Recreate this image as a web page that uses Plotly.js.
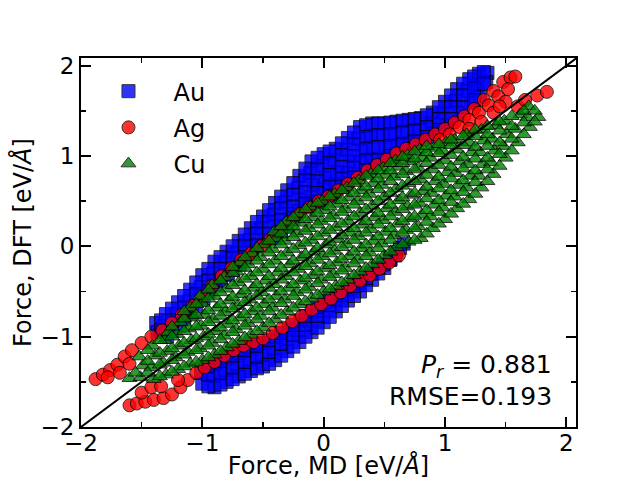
<!DOCTYPE html>
<html><head><meta charset="utf-8">
<script src="https://cdn.plot.ly/plotly-3.0.1.min.js"></script>
<style>html,body{margin:0;padding:0;background:#fff}#chart{width:640px;height:480px}</style>
</head><body><div id="chart"></div>
<script>
const seriesNames = ['Au', 'Ag', 'Cu'];

// Au (blue squares): [MD force, DFT force]
const auPoints = [
[-1.38,-0.85],[-1.37,-0.95],
[-1.30,-0.75],[-1.31,-0.88],[-1.29,-1.00],
[-1.20,-0.62],[-1.21,-0.75],[-1.19,-0.88],
[-1.10,-0.48],[-1.11,-0.61],[-1.09,-0.74],
[-1.00,-0.32],[-1.01,-0.45],[-0.99,-0.58],
[-0.90,-0.17],[-0.91,-0.30],[-0.89,-0.43],
[-0.80,-0.06],[-0.81,-0.19],[-0.79,-0.32],
[-0.70,0.06],[-0.71,-0.07],[-0.69,-0.20],
[-0.60,0.20],[-0.61,0.07],[-0.59,-0.06],
[-0.50,0.33],[-0.51,0.20],[-0.49,0.07],
[-0.40,0.48],[-0.41,0.35],[-0.39,0.22],[-0.40,0.09],
[-0.30,0.62],[-0.31,0.49],[-0.29,0.36],[-0.30,0.23],
[-0.20,0.78],[-0.21,0.65],[-0.19,0.52],[-0.20,0.39],
[-0.10,0.94],[-0.11,0.81],[-0.09,0.68],[-0.10,0.55],[-0.11,0.45],
[0.00,1.02],[-0.01,0.89],[0.01,0.76],[0.00,0.63],[-0.01,0.52],
[0.10,1.08],[0.09,0.95],[0.11,0.82],[0.10,0.69],[0.09,0.60],
[0.20,1.20],[0.19,1.07],[0.21,0.94],[0.20,0.81],[0.19,0.70],
[0.30,1.32],[0.29,1.19],[0.31,1.06],[0.30,0.93],[0.29,0.80],
[0.40,1.36],[0.39,1.23],[0.41,1.10],[0.40,0.97],[0.39,0.87],
[0.50,1.36],[0.49,1.23],[0.51,1.10],[0.50,0.97],
[0.60,1.38],[0.59,1.25],[0.61,1.12],[0.60,1.02],
[0.70,1.40],[0.69,1.27],[0.71,1.14],
[0.80,1.42],[0.79,1.29],[0.81,1.18],
[0.90,1.48],[0.89,1.36],[0.91,1.25],
[1.00,1.60],[0.99,1.47],[1.01,1.34],
[1.10,1.74],[1.09,1.61],[1.11,1.48],
[1.20,1.85],[1.19,1.72],[1.21,1.59],
[1.28,1.91],[1.27,1.78],[1.29,1.66],
[1.35,1.92],[1.34,1.82],
[-1.34,-0.82],[-1.34,-0.93],
[-1.25,-0.69],[-1.25,-0.82],[-1.25,-0.94],
[-1.15,-0.55],[-1.15,-0.68],[-1.15,-0.81],
[-1.05,-0.40],[-1.05,-0.53],[-1.05,-0.66],
[-0.95,-0.25],[-0.95,-0.38],[-0.95,-0.50],
[-0.85,-0.12],[-0.85,-0.25],[-0.85,-0.38],
[-0.75,0.00],[-0.75,-0.13],[-0.75,-0.26],
[-0.65,0.13],[-0.65,0.00],[-0.65,-0.12],
[-0.55,0.27],[-0.55,0.14],[-0.55,0.01],
[-0.45,0.40],[-0.45,0.27],[-0.45,0.14],
[-0.35,0.55],[-0.35,0.42],[-0.35,0.29],[-0.35,0.16],
[-0.25,0.70],[-0.25,0.57],[-0.25,0.44],[-0.25,0.31],
[-0.15,0.86],[-0.15,0.73],[-0.15,0.60],[-0.15,0.47],
[-0.05,0.98],[-0.05,0.85],[-0.05,0.72],[-0.05,0.59],[-0.05,0.49],
[0.05,1.05],[0.05,0.92],[0.05,0.79],[0.05,0.66],[0.05,0.56],
[0.15,1.14],[0.15,1.01],[0.15,0.88],[0.15,0.75],[0.15,0.66],
[0.25,1.26],[0.25,1.13],[0.25,1.00],[0.25,0.87],[0.25,0.76],
[0.35,1.34],[0.35,1.21],[0.35,1.08],[0.35,0.95],[0.35,0.84],
[0.45,1.36],[0.45,1.23],[0.45,1.10],[0.45,0.95],
[0.55,1.37],[0.55,1.24],[0.55,1.11],[0.55,1.00],
[0.65,1.39],[0.65,1.26],[0.65,1.13],
[0.75,1.41],[0.75,1.28],[0.75,1.16],
[0.85,1.45],[0.85,1.32],[0.85,1.21],
[0.95,1.54],[0.95,1.41],[0.95,1.29],
[1.05,1.67],[1.05,1.54],[1.05,1.41],
[1.15,1.80],[1.15,1.67],[1.15,1.54],
[1.24,1.88],[1.24,1.75],[1.24,1.62],
[1.32,1.93],[1.32,1.80],
[-1.00,-1.52],[-1.01,-1.40],
[-0.90,-1.56],[-0.91,-1.43],[-0.89,-1.30],
[-0.80,-1.50],[-0.81,-1.37],[-0.79,-1.24],
[-0.70,-1.44],[-0.71,-1.31],[-0.69,-1.18],
[-0.60,-1.38],[-0.61,-1.25],[-0.59,-1.12],
[-0.50,-1.33],[-0.51,-1.20],[-0.49,-1.07],
[-0.40,-1.26],[-0.41,-1.13],[-0.39,-1.00],
[-0.30,-1.16],[-0.31,-1.03],[-0.29,-0.92],
[-0.20,-1.06],[-0.21,-0.93],[-0.19,-0.82],
[-0.10,-0.95],[-0.11,-0.82],[-0.09,-0.72],
[0.00,-0.84],[-0.01,-0.71],[0.01,-0.62],
[0.10,-0.72],[0.09,-0.60],[0.11,-0.54],
[0.20,-0.60],[0.19,-0.48],
[0.30,-0.50],[0.29,-0.40],
[0.40,-0.37],[0.39,-0.30],
[0.50,-0.24],[0.49,-0.20],
[0.60,-0.06],[0.59,-0.10],
[0.66,0.03],
[-0.95,-1.55],[-0.95,-1.42],[-0.95,-1.33],
[-0.85,-1.53],[-0.85,-1.40],[-0.85,-1.27],
[-0.75,-1.47],[-0.75,-1.34],[-0.75,-1.21],
[-0.65,-1.41],[-0.65,-1.28],[-0.65,-1.15],
[-0.55,-1.35],[-0.55,-1.22],[-0.55,-1.10],
[-0.45,-1.30],[-0.45,-1.17],[-0.45,-1.04],
[-0.35,-1.21],[-0.35,-1.08],[-0.35,-0.96],
[-0.25,-1.11],[-0.25,-0.98],[-0.25,-0.87],
[-0.15,-1.00],[-0.15,-0.87],[-0.15,-0.77],
[-0.05,-0.90],[-0.05,-0.77],[-0.05,-0.67],
[0.05,-0.78],[0.05,-0.65],[0.05,-0.58],
[0.15,-0.66],[0.15,-0.54],
[0.25,-0.55],[0.25,-0.44],
[0.35,-0.43],[0.35,-0.35],
[0.45,-0.30],[0.45,-0.24],
[0.55,-0.15],[0.55,-0.14],
[0.63,-0.02]
];

// Ag (red circles)
const agPoints = [
[-1.88,-1.47],[-1.82,-1.42],[-1.76,-1.37],[-1.70,-1.31],[-1.64,-1.22],[-1.58,-1.15],
[-1.50,-1.07],[-1.42,-1.00],[-1.33,-0.93],[-1.25,-0.85],[-1.17,-0.76],[-1.08,-0.66],
[-1.00,-0.56],[-0.92,-0.44],[-0.84,-0.33],[-0.76,-0.24],[-0.68,-0.15],[-0.60,-0.08],
[-0.52,0.00],[-0.44,0.08],[-0.36,0.17],[-0.28,0.27],[-0.20,0.36],[-0.12,0.43],
[-0.04,0.50],[0.04,0.55],[0.12,0.62],[0.20,0.69],[0.28,0.76],[0.36,0.84],
[0.44,0.90],[0.52,0.96],[0.60,1.03],[0.68,1.08],[0.76,1.13],[0.84,1.18],
[0.92,1.24],[1.00,1.30],[1.08,1.37],[1.16,1.44],[1.24,1.52],[1.32,1.62],
[1.40,1.72],[1.48,1.82],[1.54,1.87],[1.58,1.88],
[-1.78,-1.45],[-1.68,-1.40],[-1.60,-1.30],
[0.96,1.18],[1.04,1.24],[1.12,1.32],[1.20,1.40],[1.28,1.48],[1.36,1.56],
[1.44,1.66],[1.52,1.74],[1.30,1.38],[1.40,1.48],[1.50,1.60],[1.20,1.30],[1.45,1.55],
[1.60,1.55],[1.66,1.62],[1.76,1.67],[1.84,1.71],
[-1.60,-1.76],[-1.54,-1.74],[-1.47,-1.72],[-1.40,-1.70],[-1.32,-1.68],[-1.25,-1.64],
[-1.18,-1.56],[-1.12,-1.48],[-1.05,-1.40],[-0.98,-1.34],[-0.90,-1.28],[-0.82,-1.21],
[-0.74,-1.15],[-0.66,-1.10],[-0.58,-1.06],[-0.50,-1.02],[-0.42,-0.96],[-0.34,-0.90],
[-0.26,-0.83],[-0.18,-0.77],[-0.10,-0.70],[-0.02,-0.64],[0.06,-0.58],[0.14,-0.51],
[0.22,-0.44],[0.30,-0.38],[0.38,-0.32],[0.46,-0.25],[0.54,-0.18],[0.62,-0.10],
[-1.50,-1.62],[-1.42,-1.56],[-1.34,-1.55],[-1.20,-1.48]
];

// Cu (green triangles)
const cuPoints = [
[-1.60,-1.46],
[-1.51,-1.45],[-1.49,-1.32],[-1.52,-1.22],
[-1.40,-1.47],[-1.42,-1.34],[-1.39,-1.21],[-1.41,-1.10],
[-1.30,-1.42],[-1.32,-1.29],[-1.29,-1.16],[-1.31,-1.04],[-1.28,-0.95],
[-1.20,-1.36],[-1.22,-1.23],[-1.19,-1.10],[-1.21,-0.97],[-1.18,-0.84],
[-1.10,-1.30],[-1.12,-1.17],[-1.09,-1.04],[-1.11,-0.91],[-1.08,-0.79],[-1.10,-0.68],
[-1.00,-1.26],[-1.02,-1.13],[-0.99,-1.00],[-1.01,-0.88],[-0.98,-0.76],[-1.00,-0.63],[-1.02,-0.55],
[-0.90,-1.20],[-0.92,-1.07],[-0.89,-0.94],[-0.91,-0.81],[-0.88,-0.68],[-0.90,-0.55],[-0.92,-0.43],
[-0.80,-1.12],[-0.82,-0.99],[-0.79,-0.86],[-0.81,-0.73],[-0.78,-0.60],[-0.80,-0.47],[-0.82,-0.34],
[-0.70,-1.05],[-0.72,-0.92],[-0.69,-0.79],[-0.71,-0.66],[-0.68,-0.53],[-0.70,-0.40],[-0.72,-0.28],[-0.69,-0.18],
[-0.60,-0.98],[-0.62,-0.85],[-0.59,-0.72],[-0.61,-0.59],[-0.58,-0.46],[-0.60,-0.33],[-0.62,-0.20],[-0.59,-0.08],
[-0.50,-0.90],[-0.52,-0.77],[-0.49,-0.64],[-0.51,-0.51],[-0.48,-0.38],[-0.50,-0.25],[-0.52,-0.12],[-0.49,0.02],
[-0.40,-0.81],[-0.42,-0.68],[-0.39,-0.55],[-0.41,-0.42],[-0.38,-0.29],[-0.40,-0.16],[-0.42,-0.03],[-0.39,0.09],[-0.41,0.16],
[-0.30,-0.72],[-0.32,-0.59],[-0.29,-0.46],[-0.31,-0.33],[-0.28,-0.20],[-0.30,-0.07],[-0.32,0.06],[-0.29,0.18],[-0.31,0.27],
[-0.20,-0.64],[-0.22,-0.51],[-0.19,-0.38],[-0.21,-0.25],[-0.18,-0.12],[-0.20,0.01],[-0.22,0.14],[-0.19,0.26],[-0.21,0.36],
[-0.10,-0.58],[-0.12,-0.45],[-0.09,-0.32],[-0.11,-0.19],[-0.08,-0.06],[-0.10,0.07],[-0.12,0.20],[-0.09,0.32],[-0.11,0.44],
[0.00,-0.50],[-0.02,-0.37],[0.01,-0.24],[-0.01,-0.11],[0.02,0.02],[0.00,0.15],[-0.02,0.28],[0.01,0.40],[-0.01,0.50],
[0.10,-0.44],[0.08,-0.31],[0.11,-0.18],[0.09,-0.05],[0.12,0.08],[0.10,0.21],[0.08,0.34],[0.11,0.47],[0.09,0.58],
[0.20,-0.37],[0.18,-0.24],[0.21,-0.11],[0.19,0.02],[0.22,0.15],[0.20,0.28],[0.18,0.41],[0.21,0.54],[0.19,0.65],
[0.30,-0.28],[0.28,-0.15],[0.31,-0.02],[0.29,0.11],[0.32,0.24],[0.30,0.37],[0.28,0.50],[0.31,0.62],[0.29,0.73],
[0.40,-0.20],[0.38,-0.07],[0.41,0.06],[0.39,0.19],[0.42,0.32],[0.40,0.45],[0.38,0.58],[0.41,0.70],[0.39,0.80],
[0.50,-0.10],[0.48,0.03],[0.51,0.16],[0.49,0.29],[0.52,0.42],[0.50,0.55],[0.48,0.68],[0.51,0.79],[0.49,0.87],
[0.60,-0.01],[0.58,0.12],[0.61,0.25],[0.59,0.38],[0.62,0.51],[0.60,0.64],[0.58,0.77],[0.61,0.88],[0.59,0.95],
[0.70,0.05],[0.68,0.18],[0.71,0.31],[0.69,0.44],[0.72,0.57],[0.70,0.70],[0.68,0.83],[0.71,0.94],[0.69,1.01],
[0.80,0.09],[0.78,0.22],[0.81,0.35],[0.79,0.48],[0.82,0.61],[0.80,0.74],[0.78,0.87],[0.81,0.98],[0.79,1.07],
[0.90,0.20],[0.88,0.33],[0.91,0.46],[0.89,0.59],[0.92,0.72],[0.90,0.85],[0.88,0.98],[0.91,1.09],
[1.00,0.30],[0.98,0.43],[1.01,0.56],[0.99,0.69],[1.02,0.82],[1.00,0.95],[0.98,1.06],[1.01,1.15],
[1.10,0.42],[1.08,0.55],[1.11,0.68],[1.09,0.81],[1.12,0.94],[1.10,1.07],[1.08,1.18],
[1.20,0.52],[1.18,0.65],[1.21,0.78],[1.19,0.91],[1.22,1.04],[1.20,1.15],[1.18,1.24],
[1.30,0.65],[1.28,0.78],[1.31,0.91],[1.29,1.04],[1.32,1.17],[1.30,1.29],
[1.40,0.80],[1.38,0.93],[1.41,1.06],[1.39,1.19],[1.42,1.34],
[1.50,0.98],[1.48,1.11],[1.51,1.24],[1.49,1.39],
[1.60,1.15],[1.58,1.30],[1.62,1.46],
[1.70,1.32],[1.68,1.43],[1.69,1.55],
[1.77,1.43],
[-1.55,-1.40],
[-1.45,-1.40],[-1.45,-1.27],[-1.45,-1.15],
[-1.35,-1.44],[-1.35,-1.31],[-1.35,-1.18],[-1.35,-1.04],
[-1.25,-1.39],[-1.25,-1.26],[-1.25,-1.13],[-1.25,-1.00],[-1.25,-0.89],
[-1.15,-1.33],[-1.15,-1.20],[-1.15,-1.07],[-1.15,-0.94],[-1.15,-0.80],[-1.15,-0.72],
[-1.05,-1.28],[-1.05,-1.15],[-1.05,-1.02],[-1.05,-0.89],[-1.05,-0.76],[-1.05,-0.64],
[-0.95,-1.23],[-0.95,-1.10],[-0.95,-0.97],[-0.95,-0.84],[-0.95,-0.71],[-0.95,-0.58],[-0.95,-0.48],
[-0.85,-1.16],[-0.85,-1.03],[-0.85,-0.90],[-0.85,-0.77],[-0.85,-0.64],[-0.85,-0.51],[-0.85,-0.38],
[-0.75,-1.08],[-0.75,-0.95],[-0.75,-0.82],[-0.75,-0.69],[-0.75,-0.56],[-0.75,-0.43],[-0.75,-0.30],[-0.75,-0.23],
[-0.65,-1.01],[-0.65,-0.88],[-0.65,-0.75],[-0.65,-0.62],[-0.65,-0.49],[-0.65,-0.36],[-0.65,-0.24],[-0.65,-0.12],
[-0.55,-0.94],[-0.55,-0.81],[-0.55,-0.68],[-0.55,-0.55],[-0.55,-0.42],[-0.55,-0.29],[-0.55,-0.16],[-0.55,-0.02],
[-0.45,-0.85],[-0.45,-0.72],[-0.45,-0.59],[-0.45,-0.46],[-0.45,-0.33],[-0.45,-0.20],[-0.45,-0.07],[-0.45,0.06],
[-0.35,-0.76],[-0.35,-0.63],[-0.35,-0.50],[-0.35,-0.37],[-0.35,-0.24],[-0.35,-0.11],[-0.35,0.02],[-0.35,0.14],[-0.35,0.22],
[-0.25,-0.68],[-0.25,-0.55],[-0.25,-0.42],[-0.25,-0.29],[-0.25,-0.16],[-0.25,-0.03],[-0.25,0.10],[-0.25,0.22],[-0.25,0.32],
[-0.15,-0.61],[-0.15,-0.48],[-0.15,-0.35],[-0.15,-0.22],[-0.15,-0.09],[-0.15,0.04],[-0.15,0.17],[-0.15,0.30],[-0.15,0.41],
[-0.05,-0.54],[-0.05,-0.41],[-0.05,-0.28],[-0.05,-0.15],[-0.05,-0.02],[-0.05,0.11],[-0.05,0.24],[-0.05,0.37],[-0.05,0.48],
[0.05,-0.47],[0.05,-0.34],[0.05,-0.21],[0.05,-0.08],[0.05,0.05],[0.05,0.18],[0.05,0.31],[0.05,0.44],[0.05,0.55],
[0.15,-0.40],[0.15,-0.27],[0.15,-0.14],[0.15,-0.01],[0.15,0.12],[0.15,0.25],[0.15,0.38],[0.15,0.51],[0.15,0.62],
[0.25,-0.32],[0.25,-0.19],[0.25,-0.06],[0.25,0.07],[0.25,0.20],[0.25,0.33],[0.25,0.46],[0.25,0.59],[0.25,0.70],
[0.35,-0.24],[0.35,-0.11],[0.35,0.02],[0.35,0.15],[0.35,0.28],[0.35,0.41],[0.35,0.54],[0.35,0.66],[0.35,0.78],
[0.45,-0.15],[0.45,-0.02],[0.45,0.11],[0.45,0.24],[0.45,0.37],[0.45,0.50],[0.45,0.63],[0.45,0.75],[0.45,0.84],
[0.55,-0.06],[0.55,0.07],[0.55,0.20],[0.55,0.33],[0.55,0.46],[0.55,0.59],[0.55,0.72],[0.55,0.84],[0.55,0.92],
[0.65,0.02],[0.65,0.15],[0.65,0.28],[0.65,0.41],[0.65,0.54],[0.65,0.67],[0.65,0.80],[0.65,0.92],[0.65,0.99],
[0.75,0.07],[0.75,0.20],[0.75,0.33],[0.75,0.46],[0.75,0.59],[0.75,0.72],[0.75,0.85],[0.75,0.97],[0.75,1.05],
[0.85,0.14],[0.85,0.27],[0.85,0.40],[0.85,0.53],[0.85,0.66],[0.85,0.79],[0.85,0.92],[0.85,1.04],[0.85,1.11],
[0.95,0.25],[0.95,0.38],[0.95,0.51],[0.95,0.64],[0.95,0.77],[0.95,0.90],[0.95,1.03],[0.95,1.13],
[1.05,0.36],[1.05,0.49],[1.05,0.62],[1.05,0.75],[1.05,0.88],[1.05,1.01],[1.05,1.12],[1.05,1.18],
[1.15,0.47],[1.15,0.60],[1.15,0.73],[1.15,0.86],[1.15,0.99],[1.15,1.12],[1.15,1.22],
[1.25,0.58],[1.25,0.71],[1.25,0.84],[1.25,0.97],[1.25,1.10],[1.25,1.22],[1.25,1.29],
[1.35,0.72],[1.35,0.85],[1.35,0.98],[1.35,1.11],[1.35,1.24],[1.35,1.33],
[1.45,0.89],[1.45,1.02],[1.45,1.15],[1.45,1.28],[1.45,1.38],
[1.55,1.06],[1.55,1.19],[1.55,1.33],[1.55,1.44],
[1.65,1.24],[1.65,1.37],[1.65,1.50],
[1.74,1.38],[1.74,1.50]
];

const diagonal = [-2.2, 2.2];
const tickVals = [-2, -1, 0, 1, 2];
const tickText = ['\u22122', '\u22121', '0', '1', '2'];
const statLines = ['<i>P<sub>r</sub></i> = 0.881', 'RMSE=0.193'];

const FONT = 'DejaVu Sans, Liberation Sans, sans-serif';
function xs(p) { return p.map(d => d[0]); }
function ys(p) { return p.map(d => d[1]); }

const traces = [
  {x: xs(auPoints), y: ys(auPoints), name: seriesNames[0], type: 'scatter', mode: 'markers', legendgroup: 'a',
   marker: {symbol: 'square', size: 13, color: 'rgb(0,0,255)', opacity: 0.8, line: {color: '#000', width: 1}}},
  {x: xs(agPoints), y: ys(agPoints), name: seriesNames[1], type: 'scatter', mode: 'markers', legendgroup: 'b',
   marker: {symbol: 'circle', size: 13, color: 'rgb(255,0,0)', opacity: 0.8, line: {color: '#000', width: 1}}},
  {x: xs(cuPoints), y: ys(cuPoints), name: seriesNames[2], type: 'scatter', mode: 'markers', legendgroup: 'c',
   marker: {symbol: 'triangle-up', size: 13, color: 'rgb(0,128,0)', opacity: 0.8, line: {color: '#000', width: 1}}},
  {x: diagonal, y: diagonal, type: 'scatter', mode: 'lines', showlegend: false, hoverinfo: 'skip',
   line: {color: '#000', width: 2}}
];

function axis(range, title, labelShift, titleGap) {
  return {
    range: range, tickmode: 'array', tickvals: tickVals, ticktext: tickText,
    ticks: 'inside', ticklen: 10, tickwidth: 2, tickcolor: '#000',
    minor: {tickmode: 'linear', tick0: 0, dtick: 0.5, ticks: 'inside', ticklen: 5, tickwidth: 1.5, tickcolor: '#000'},
    showline: true, linewidth: 2, linecolor: '#000', mirror: 'ticks',
    showgrid: false, zeroline: false,
    ticklabelstandoff: labelShift,
    tickfont: {family: FONT, size: 23, color: '#000'},
    title: {text: title, font: {family: FONT, size: 24, color: '#000'}, standoff: titleGap}
  };
}

const layout = {
  width: 640, height: 480,
  margin: {l: 81, r: 64, t: 58, b: 53},
  paper_bgcolor: '#fff', plot_bgcolor: '#fff',
  font: {family: FONT, color: '#000'},
  xaxis: axis([-2, 2.08], 'Force, MD [eV/<i>Å</i>]', -6, 8),
  yaxis: axis([-2, 2.085], 'Force, DFT [eV/<i>Å</i>]', 0, 2),
  showlegend: true,
  legend: {x: 0.005, y: 0.97, xanchor: 'left', yanchor: 'top', bgcolor: 'rgba(0,0,0,0)',
           font: {family: FONT, size: 24, color: '#000'}, itemwidth: 80, tracegroupgap: 2,
           traceorder: 'grouped'},
  annotations: [
    {xref: 'paper', yref: 'paper', x: 0.955, y: 0.165, xanchor: 'right', yanchor: 'middle', showarrow: false,
     text: statLines[0], font: {family: FONT, size: 25, color: '#000'}},
    {xref: 'paper', yref: 'paper', x: 0.955, y: 0.083, xanchor: 'right', yanchor: 'middle', showarrow: false,
     text: statLines[1], font: {family: FONT, size: 25, color: '#000'}}
  ]
};

Plotly.newPlot('chart', traces, layout, {displayModeBar: false, staticPlot: true});
</script></body></html>
